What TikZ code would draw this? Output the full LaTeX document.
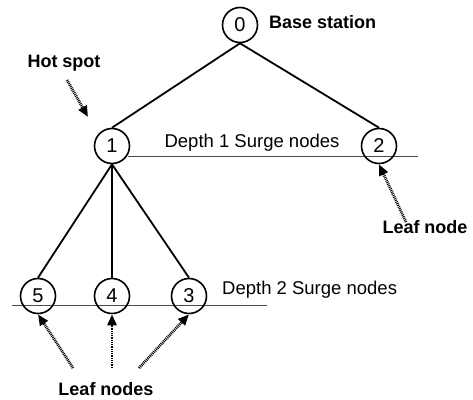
\documentclass[tikz,border=0pt]{standalone}
\usepackage{fontspec}
\setmainfont{Liberation Sans}
\usetikzlibrary{arrows.meta}
\begin{document}
\begin{tikzpicture}[x=1pt,y=-1pt,
  tnode/.style={circle,draw,line width=1.6pt,minimum size=35pt,inner sep=0pt,font=\fontsize{20}{22}\selectfont},
  edge/.style={line width=1.8pt},
  depthline/.style={line width=0.9pt,draw=black!70},
  lbl/.style={font=\fontsize{18.5}{20}\selectfont,inner sep=0pt},
  blbl/.style={font=\fontsize{18}{20}\selectfont\bfseries,inner sep=0pt},
  ptr/.style={line width=2.8pt,dash pattern=on 0.9pt off 0.9pt,-{Triangle[length=11pt,width=9pt]}}
]
\useasboundingbox (0,0) rectangle (473,399);
% depth lines
\coordinate (d1a) at (128,156);
\coordinate (d1b) at (418,156);
\coordinate (d2a) at (12,305);
\coordinate (d2b) at (267,305);
\draw[depthline] (d1a) -- (d1b);
\draw[depthline] (d2a) -- (d2b);
% nodes
\node[tnode,fill=white] (n0) at (240,25) {0};
\node[tnode] (n1) at (112,146) {1};
\node[tnode] (n2) at (379,146) {2};
\node[tnode] (n5) at (38,296) {5};
\node[tnode] (n4) at (112,296) {4};
\node[tnode] (n3) at (189,296) {3};
% edges
\draw[edge] (n0.south) -- (n1.north);
\draw[edge] (n0.south) -- (n2.north);
\draw[edge] (n1.south) -- (n5.north);
\draw[edge,line width=2.3pt] (n1.south) -- (n4.north);
\draw[edge] (n1.south) -- (n3.north);
% labels
\node[blbl,anchor=west] (bs) at (269,22) {Base station};
\node[blbl] (hs) at (64,63) {Hot spot};
\node[lbl] (d1) at (252,143) {Depth 1 Surge nodes};
\node[lbl,anchor=west] (d2) at (222,290) {Depth 2 Surge nodes};
\node[blbl] (ln) at (425,227) {Leaf node};
\node[blbl] (lns) at (106,389) {Leaf nodes};
% pointers
\coordinate (hsa) at (67,80);
\coordinate (lna) at (406,222);
\coordinate (la5) at (73,368);
\coordinate (la4) at (112,368);
\coordinate (la3) at (139,368);
\draw[ptr] (hsa) -- (88,117);
\draw[ptr] (lna) -- (n2.south);
\draw[ptr] (la5) -- (n5.south);
\draw[ptr] (la4) -- (n4.south);
\draw[ptr] (la3) -- (n3.south);
\end{tikzpicture}
\end{document}
